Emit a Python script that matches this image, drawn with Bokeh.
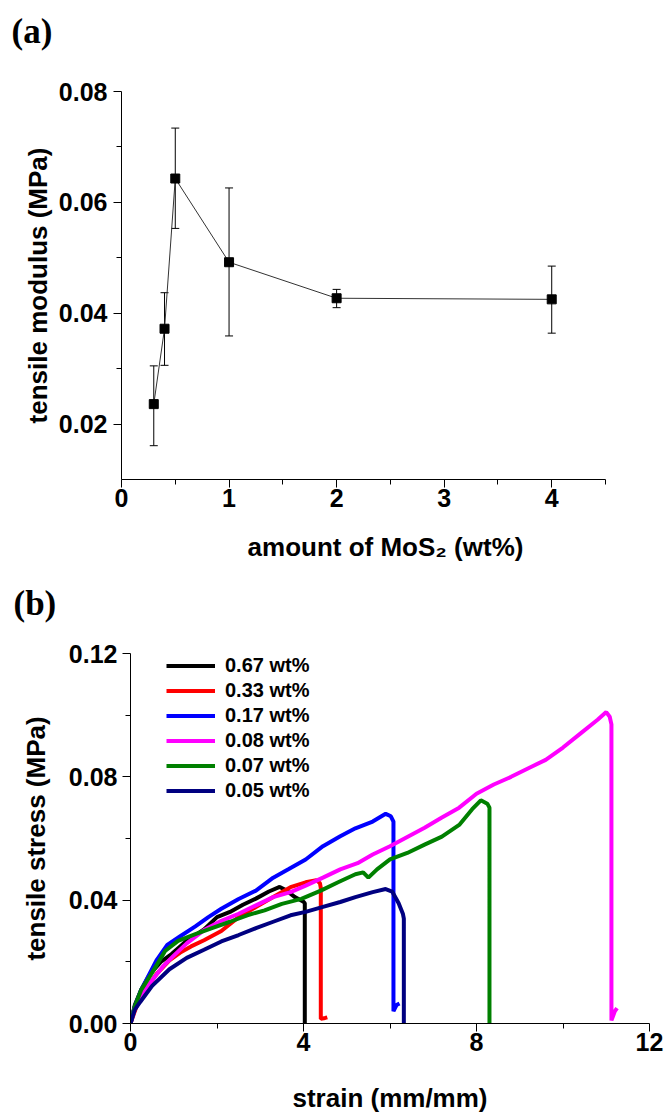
from bokeh.plotting import figure
from bokeh.models import (Range1d, FixedTicker, PrintfTickFormatter, Whisker, TeeHead,
                          ColumnDataSource, Legend, LegendItem, Title)
from bokeh.layouts import column, row
from bokeh.embed import file_html
from bokeh.resources import INLINE

# ---------------- panel (a) data ----------------
mos2_wt = [0.3, 0.4, 0.5, 1.0, 2.0, 4.0]
modulus = [0.0236, 0.0372, 0.0643, 0.0492, 0.0427, 0.0425]
modulus_upper = [0.0305, 0.0437, 0.0734, 0.0626, 0.0443, 0.0485]
modulus_lower = [0.0161, 0.0306, 0.0553, 0.0359, 0.0410, 0.0364]

# ---------------- panel (b) data ----------------
labels_b = ["0.67 wt%", "0.33 wt%", "0.17 wt%", "0.08 wt%", "0.07 wt%", "0.05 wt%"]
colors_b = ["#000000", "#ff0000", "#0000ff", "#ff00ff", "#008000", "#000080"]

strain_067 = [0, 0.1, 0.25, 0.45, 0.7, 0.95, 1.3, 1.7, 2.0, 2.3, 2.6, 2.9, 3.2, 3.45, 3.6, 3.8, 4.0, 4.03, 4.03]
stress_067 = [0, 0.006, 0.011, 0.016, 0.020, 0.0225, 0.0268, 0.0305, 0.0345, 0.0362, 0.0385, 0.0405, 0.0428, 0.0443, 0.0432, 0.041, 0.0395, 0.039, 0.0]

strain_033 = [0, 0.15, 0.35, 0.6, 0.9, 1.15, 1.4, 1.7, 2.1, 2.5, 2.9, 3.3, 3.7, 4.05, 4.3, 4.38, 4.40, 4.40, 4.5, 4.55]
stress_033 = [0, 0.006, 0.011, 0.016, 0.0205, 0.023, 0.025, 0.027, 0.030, 0.0345, 0.0378, 0.041, 0.0442, 0.0458, 0.0465, 0.0455, 0.044, 0.0015, 0.0018, 0.002]

strain_017 = [0, 0.1, 0.25, 0.4, 0.6, 0.85, 1.15, 1.5, 1.8, 2.1, 2.5, 2.9, 3.3, 3.65, 4.05, 4.45, 4.85, 5.2, 5.6, 5.9, 6.02, 6.08, 6.08, 6.15, 6.22]
stress_017 = [0, 0.0055, 0.011, 0.015, 0.0205, 0.0255, 0.0283, 0.0315, 0.0345, 0.0372, 0.0404, 0.0431, 0.0473, 0.050, 0.0532, 0.0575, 0.0607, 0.0633, 0.0655, 0.068, 0.0672, 0.0655, 0.004, 0.006, 0.0065]

strain_008 = [0, 0.1, 0.3, 0.5, 0.75, 1.0, 1.3, 1.7, 2.1, 2.5, 2.9, 3.3, 3.7, 4.05, 4.45, 4.85, 5.25, 5.6, 6.0, 6.4, 6.8, 7.2, 7.6, 8.0, 8.4, 8.8, 9.2, 9.6, 10.0, 10.4, 10.8, 11.0, 11.08, 11.12, 11.12, 11.2, 11.25]
stress_008 = [0, 0.005, 0.010, 0.014, 0.0185, 0.022, 0.026, 0.0303, 0.0333, 0.0356, 0.0383, 0.041, 0.0426, 0.0447, 0.0473, 0.050, 0.052, 0.0548, 0.0575, 0.0605, 0.0635, 0.0668, 0.070, 0.0745, 0.0775, 0.080, 0.0828, 0.0855, 0.0895, 0.094, 0.0985, 0.101, 0.0995, 0.097, 0.001, 0.004, 0.005]

strain_007 = [0, 0.1, 0.25, 0.5, 0.8, 1.1, 1.5, 1.9, 2.3, 2.7, 3.1, 3.5, 3.95, 4.4, 4.8, 5.2, 5.38, 5.5, 5.7, 6.0, 6.4, 6.8, 7.2, 7.6, 7.9, 8.1, 8.25, 8.3, 8.3]
stress_007 = [0, 0.0055, 0.011, 0.0165, 0.0235, 0.0268, 0.029, 0.031, 0.033, 0.0351, 0.0367, 0.0388, 0.0404, 0.0431, 0.0458, 0.0484, 0.049, 0.0473, 0.050, 0.0532, 0.0553, 0.058, 0.0606, 0.0644, 0.0695, 0.0724, 0.0713, 0.070, 0.0]

strain_005 = [0, 0.1, 0.22, 0.5, 0.9, 1.3, 1.7, 2.1, 2.5, 2.9, 3.3, 3.7, 4.05, 4.45, 4.85, 5.2, 5.6, 5.9, 6.05, 6.2, 6.3, 6.32, 6.32]
stress_005 = [0, 0.0045, 0.0069, 0.0122, 0.0176, 0.0213, 0.0239, 0.0266, 0.0287, 0.0309, 0.033, 0.0351, 0.0362, 0.0378, 0.0394, 0.041, 0.0426, 0.0436, 0.0428, 0.039, 0.0355, 0.034, 0.0]

strains_b = [strain_067, strain_033, strain_017, strain_008, strain_007, strain_005]
stresses_b = [stress_067, stress_033, stress_017, stress_008, stress_007, stress_005]

FONT = "Liberation Sans"
W = 665
BR = 16                     # right border: frames end at x = 649


def style_axes(p, xticks, xminor, yticks, yminor):
    p.xaxis.ticker = FixedTicker(ticks=xticks, minor_ticks=xminor)
    p.yaxis.ticker = FixedTicker(ticks=yticks, minor_ticks=yminor)
    for ax in (p.xaxis[0], p.yaxis[0]):
        ax.axis_line_color = "black"
        ax.axis_line_width = 1
        ax.major_tick_out = 8
        ax.major_tick_in = 0
        ax.minor_tick_out = 5
        ax.minor_tick_in = 0
        ax.major_tick_line_color = "black"
        ax.minor_tick_line_color = "black"
        ax.major_label_text_font = FONT
        ax.major_label_text_font_style = "bold"
        ax.major_label_text_font_size = "25px"
        ax.major_label_text_color = "black"
        ax.axis_label_text_font = FONT
        ax.axis_label_text_font_style = "bold"
        ax.axis_label_text_font_size = "26px"
        ax.axis_label_text_color = "black"
    p.xgrid.visible = False
    p.ygrid.visible = False
    p.outline_line_color = None
    p.background_fill_color = "white"
    p.border_fill_color = "white"


def label_fig(text, height, offset, standoff):
    f = figure(width=W, height=height, x_range=Range1d(0, 1), y_range=Range1d(0, 1),
               x_axis_location=None, y_axis_location=None,
               output_backend="svg", toolbar_location=None,
               min_border_left=121, min_border_right=BR, min_border_top=0, min_border_bottom=0)
    f.grid.visible = False
    f.outline_line_color = None
    f.title = Title(text=text, align="left", offset=offset, standoff=standoff,
                    text_font="Liberation Serif", text_font_style="bold",
                    text_font_size="35px", text_color="black", vertical_align="top")
    return f


# ---------------- label (a) : page 0 .. 66 ----------------
fa = label_fig("(a)", 66, -110, 22)

# ---------------- panel (a) : page 66 .. 583 ----------------
xa_end = 4.5 * (W - 121 - BR) / 484.0
p1 = figure(width=W, height=517, x_range=Range1d(0, xa_end), y_range=Range1d(0.01, 0.08),
            output_backend="svg", toolbar_location=None,
            min_border_left=121, min_border_right=BR, min_border_top=25, min_border_bottom=104)
style_axes(p1, [0, 1, 2, 3, 4], [0.5, 1.5, 2.5, 3.5, 4.5], [0.02, 0.04, 0.06, 0.08], [0.03, 0.05, 0.07])
p1.xaxis.bounds = (0, 4.5)
p1.yaxis.formatter = PrintfTickFormatter(format="%.2f")
p1.xaxis.axis_label = "amount of MoS\u2082 (wt%)"
p1.yaxis.axis_label = "tensile modulus (MPa)"
p1.yaxis.major_label_standoff = 6
p1.yaxis.axis_label_standoff = 3
p1.xaxis.major_label_standoff = 1
p1.xaxis.axis_label_standoff = 22

src_a = ColumnDataSource(dict(x=mos2_wt, y=modulus, upper=modulus_upper, lower=modulus_lower))
p1.line("x", "y", source=src_a, line_color="#333333", line_width=1)
whisk = Whisker(base="x", upper="upper", lower="lower", source=src_a, line_color="black", line_width=1,
                upper_head=TeeHead(size=8, line_color="black", line_width=1),
                lower_head=TeeHead(size=8, line_color="black", line_width=1))
p1.add_layout(whisk)
p1.scatter("x", "y", source=src_a, marker="square", size=9, fill_color="black", line_color="black")

# ---------------- label (b) : page 583 .. 625 ----------------
fb = label_fig("(b)", 42, -108, 0)

# ---------------- panel (b) : page 625 .. 1115 ----------------
p2 = figure(width=W, height=490, x_range=Range1d(0, 12), y_range=Range1d(0, 0.12),
            output_backend="svg", toolbar_location=None,
            min_border_left=130, min_border_right=BR, min_border_top=28, min_border_bottom=91)
style_axes(p2, [0, 4, 8, 12], [2, 6, 10], [0, 0.04, 0.08, 0.12], [0.02, 0.06, 0.10])
p2.yaxis.formatter = PrintfTickFormatter(format="%.2f")
p2.xaxis.axis_label = "strain (mm/mm)"
p2.yaxis.axis_label = "tensile stress (MPa)"
p2.yaxis.major_label_standoff = 5
p2.yaxis.axis_label_standoff = 15
p2.xaxis.major_label_standoff = 1
p2.xaxis.axis_label_standoff = 29

items = []
for lab, col, xs, ys in zip(labels_b, colors_b, strains_b, stresses_b):
    r = p2.line(xs, ys, line_color=col, line_width=4)
    items.append(LegendItem(label=lab, renderers=[r]))

# frame height = 490 - 28 - 91 = 371 ; legend height = 6 rows * 25 = 150
legend = Legend(items=items, location=(36, 220), orientation="vertical",
                glyph_width=49, glyph_height=25, label_height=25, spacing=0,
                padding=0, margin=0, label_standoff=10,
                border_line_color=None, background_fill_alpha=0,
                label_text_font=FONT, label_text_font_style="bold", label_text_font_size="20px",
                label_text_color="black")
p2.add_layout(legend)

layout = column(row(fa), row(p1), row(fb), row(p2), spacing=0)
open("out.html", "w").write(file_html(layout, INLINE))
